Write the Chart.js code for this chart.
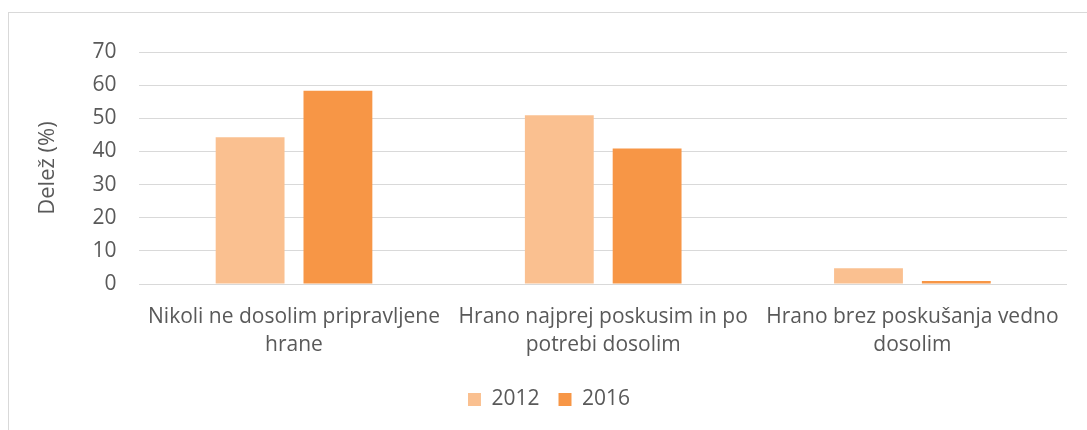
<!DOCTYPE html>
<html>
  <head>
    <title>Delež</title>
    <script src="https://cdn.jsdelivr.net/npm/chart.js"></script>
    <style>
      body { margin: 0; background: #fff; }
      #wrap { position: relative; width: 1087px; height: 430px; }
      #frame { position: absolute; left: 8px; top: 12px; right: -2px; bottom: -2px; border: 1px solid #d9d9d9; }
      canvas { position: absolute; left: 0; top: 0; }
    </style>
  </head>
  <body>
    <div id="wrap">
      <div id="frame"></div>
      <canvas id="chart" width="1087" height="430"></canvas>
    </div>

    <script>
      // categories (split into the two lines shown under the axis)
      const categories = [
        ['Nikoli ne dosolim pripravljene', 'hrane'],
        ['Hrano najprej poskusim in po', 'potrebi dosolim'],
        ['Hrano brez poskušanja vedno', 'dosolim']
      ];
      const years = ['2012', '2016'];
      const values2012 = [44.3, 50.9, 4.8];
      const values2016 = [58.3, 40.9, 0.9];
      const yTicks = [0, 10, 20, 30, 40, 50, 60, 70];

      const textColor = '#595959';
      const gridColor = '#d9d9d9';
      const font = { family: 'Open Sans', size: 21 };

      new Chart(document.getElementById('chart'), {
        type: 'bar',
        data: {
          labels: categories,
          datasets: [
            { label: years[0], data: values2012, backgroundColor: '#fac090' },
            { label: years[1], data: values2016, backgroundColor: '#f79646' }
          ]
        },
        options: {
          responsive: false,
          animation: false,
          events: [],
          categoryPercentage: 0.568,
          barPercentage: 0.784,
          layout: { padding: { left: 31, right: 20, top: 52, bottom: 10 } },
          scales: {
            x: {
              grid: { display: false },
              border: { display: false },
              ticks: { color: textColor, font: { ...font, lineHeight: 1.38 }, padding: 10, maxRotation: 0, autoSkip: false }
            },
            y: {
              min: yTicks[0],
              max: yTicks[yTicks.length - 1],
              afterBuildTicks: (scale) => { scale.ticks = yTicks.map(v => ({ value: v })); },
              grid: { color: gridColor, lineWidth: 1, drawTicks: false },
              border: { display: false },
              ticks: { color: textColor, font: font, padding: 23 },
              title: {
                display: true,
                text: 'Delež (%)',
                color: textColor,
                font: { ...font, size: 22 },
                padding: { top: 4, bottom: 8 }
              }
            }
          },
          plugins: {
            tooltip: { enabled: false },
            legend: {
              position: 'bottom',
              labels: { color: textColor, font: font, boxWidth: 13, boxHeight: 13, padding: 19 }
            }
          }
        }
      });
    </script>
  </body>
</html>
